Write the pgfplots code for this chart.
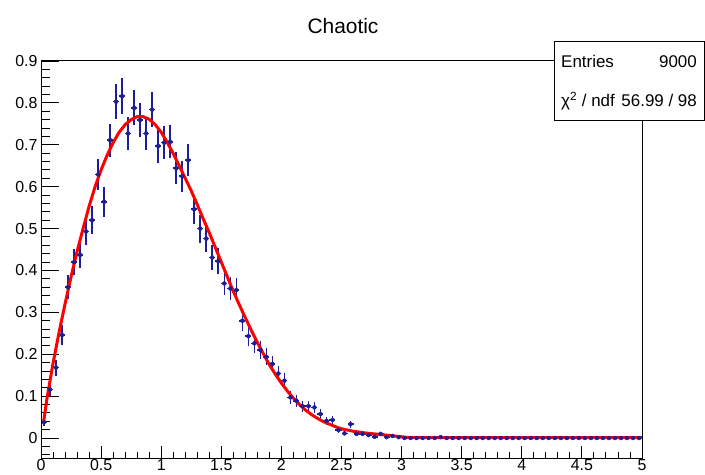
\documentclass[border=0pt]{standalone}
\usepackage{pgfplots}
\usepackage{pgfplotstable}
\pgfplotsset{compat=1.18}
\usepackage{fontspec}
\setmainfont{Liberation Sans}
\definecolor{rootblue}{RGB}{30,30,150}
\definecolor{rootred}{RGB}{255,0,0}

\pgfplotstableread{
x y ex ey
0.025 0.038 0.025 0.0092
0.075 0.116 0.025 0.0161
0.125 0.168 0.025 0.0193
0.175 0.246 0.025 0.0234
0.225 0.360 0.025 0.0283
0.275 0.420 0.025 0.0306
0.325 0.437 0.025 0.0312
0.375 0.493 0.025 0.0331
0.425 0.520 0.025 0.0340
0.475 0.629 0.025 0.0374
0.525 0.564 0.025 0.0354
0.575 0.711 0.025 0.0397
0.625 0.803 0.025 0.0422
0.675 0.816 0.025 0.0426
0.725 0.727 0.025 0.0402
0.775 0.788 0.025 0.0418
0.825 0.759 0.025 0.0411
0.875 0.727 0.025 0.0402
0.925 0.784 0.025 0.0417
0.975 0.697 0.025 0.0394
1.025 0.705 0.025 0.0396
1.075 0.707 0.025 0.0396
1.125 0.644 0.025 0.0378
1.175 0.625 0.025 0.0373
1.225 0.663 0.025 0.0384
1.275 0.546 0.025 0.0348
1.325 0.500 0.025 0.0333
1.375 0.476 0.025 0.0325
1.425 0.431 0.025 0.0309
1.475 0.422 0.025 0.0306
1.525 0.369 0.025 0.0286
1.575 0.357 0.025 0.0282
1.625 0.353 0.025 0.0280
1.675 0.280 0.025 0.0249
1.725 0.243 0.025 0.0232
1.775 0.226 0.025 0.0224
1.825 0.210 0.025 0.0216
1.875 0.194 0.025 0.0208
1.925 0.177 0.025 0.0198
1.975 0.154 0.025 0.0185
2.025 0.137 0.025 0.0174
2.075 0.097 0.025 0.0147
2.125 0.089 0.025 0.0141
2.175 0.076 0.025 0.0130
2.225 0.076 0.025 0.0130
2.275 0.073 0.025 0.0127
2.325 0.057 0.025 0.0113
2.375 0.041 0.025 0.0095
2.425 0.043 0.025 0.0098
2.475 0.019 0.025 0.0065
2.525 0.011 0.025 0.0049
2.575 0.033 0.025 0.0086
2.625 0.010 0.025 0.0047
2.675 0.010 0.025 0.0047
2.725 0.007 0.025 0.0039
2.775 0.003 0.025 0.0026
2.825 0.010 0.025 0.0047
2.875 0.002 0.025 0.0021
2.925 0.005 0.025 0.0033
2.975 0.002 0.025 0.0021
3.025 0 0.025 0
3.075 0 0.025 0
3.125 0 0.025 0
3.175 0 0.025 0
3.225 0 0.025 0
3.275 0 0.025 0
3.325 0.0022 0.025 0.0022
3.375 0 0.025 0
3.425 0 0.025 0
3.475 0 0.025 0
3.525 0 0.025 0
3.575 0 0.025 0
3.625 0 0.025 0
3.675 0 0.025 0
3.725 0 0.025 0
3.775 0 0.025 0
3.825 0 0.025 0
3.875 0 0.025 0
3.925 0 0.025 0
3.975 0 0.025 0
4.025 0 0.025 0
4.075 0 0.025 0
4.125 0 0.025 0
4.175 0 0.025 0
4.225 0 0.025 0
4.275 0 0.025 0
4.325 0 0.025 0
4.375 0 0.025 0
4.425 0 0.025 0
4.475 0 0.025 0
4.525 0 0.025 0
4.575 0 0.025 0
4.625 0 0.025 0
4.675 0 0.025 0
4.725 0 0.025 0
4.775 0 0.025 0
4.825 0 0.025 0
4.875 0 0.025 0
4.925 0 0.025 0
4.975 0 0.025 0
}\hdata

\pgfplotstableread{
x y
0.02 0.035
0.05 0.095
0.10 0.178
0.15 0.252
0.20 0.320
0.25 0.385
0.30 0.445
0.35 0.500
0.40 0.553
0.45 0.600
0.50 0.640
0.55 0.675
0.60 0.705
0.65 0.730
0.70 0.748
0.75 0.760
0.80 0.767
0.85 0.767
0.90 0.761
0.95 0.748
1.00 0.730
1.05 0.706
1.10 0.679
1.15 0.650
1.20 0.620
1.25 0.590
1.30 0.557
1.35 0.523
1.40 0.490
1.45 0.455
1.50 0.420
1.55 0.385
1.60 0.350
1.65 0.318
1.70 0.287
1.75 0.257
1.80 0.228
1.85 0.201
1.90 0.175
1.95 0.152
2.00 0.131
2.05 0.112
2.10 0.095
2.15 0.080
2.20 0.067
2.25 0.056
2.30 0.047
2.35 0.039
2.40 0.033
2.45 0.027
2.50 0.022
2.60 0.016
2.70 0.012
2.80 0.009
2.90 0.006
3.00 0.003
3.05 0.0012
5.00 0.0012
}\fitdata

\begin{document}
\begin{tikzpicture}
\useasboundingbox (0,0) rectangle (705bp,475bp);
\pgfplotsset{common/.style={
  at={(41bp,17bp)}, anchor=south west, scale only axis,
  width=601bp, height=397bp,
  xmin=0, xmax=5, ymin=-0.0477, ymax=0.9,
  tick align=inside, tick pos=left,
  axis line style={line width=1bp, black},
  every tick/.style={black, line width=0.9bp},
  /pgf/number format/assume math mode=true,
  ticklabel style={font=\fontsize{16}{19}\selectfont},
}}
\begin{axis}[common,
  xtick=\empty,
  ytick={0,0.1,0.2,0.3,0.4,0.5,0.6,0.7,0.8,0.9},
  yticklabels={0,0.1,0.2,0.3,0.4,0.5,0.6,0.7,0.8,0.9},
  minor ytick={-0.04,-0.02,...,0.89},
  major tick length=18bp, minor tick length=9bp,
  clip=true]
 \addplot[only marks, mark=none, rootblue,
   error bars/.cd, x dir=both, x explicit, y dir=both, y explicit,
   error mark=none, error bar style={line width=1.6bp, rootblue}]
   table[x=x, y=y, x error=ex, y error=ey] {\hdata};
 \addplot[rootred, line width=3bp] table[x=x, y=y] {\fitdata};
\end{axis}
\begin{axis}[common,
  ytick=\empty,
  xtick={0,0.5,1,1.5,2,2.5,3,3.5,4,4.5,5},
  xticklabels={0,0.5,1,1.5,2,2.5,3,3.5,4,4.5,5},
  minor xtick={0,0.1,...,5.01},
  major tick length=12bp, minor tick length=6bp,
  xticklabel style={inner sep=1.5bp}]
 \addplot[draw=none] coordinates {(0,0)};
\end{axis}
\node[font=\fontsize{21}{25}\selectfont] at (343bp,449bp) {Chaotic};
\draw[line width=1bp, fill=white] (554bp,354bp) rectangle (704bp,433bp);
\node[anchor=base west, inner sep=0, font=\fontsize{17}{20}\selectfont] at (561bp,407bp) {Entries};
\node[anchor=base east, inner sep=0, font=\fontsize{17}{20}\selectfont] at (697bp,407bp) {9000};
\node[anchor=base west, inner sep=0, font=\fontsize{17}{20}\selectfont] at (561bp,368bp) {χ\textsuperscript{2} / ndf};
\node[anchor=base east, inner sep=0, font=\fontsize{17}{20}\selectfont] at (697bp,368bp) {56.99 / 98};
\end{tikzpicture}
\end{document}
